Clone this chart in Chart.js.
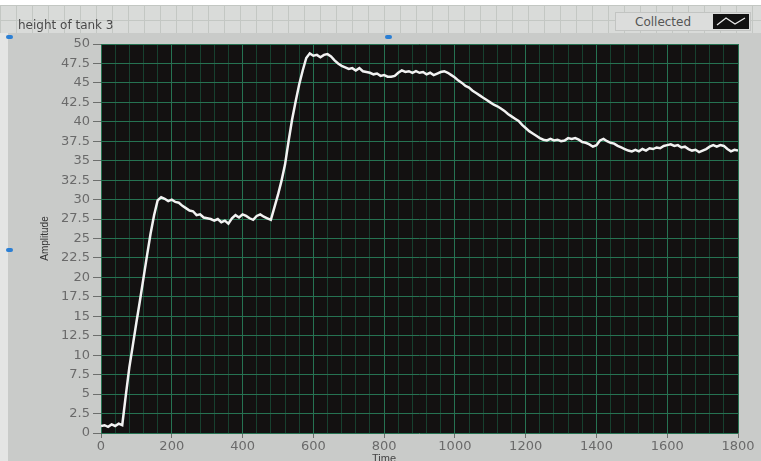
<!DOCTYPE html>
<html>
<head>
<meta charset="utf-8">
<script src="https://cdn.jsdelivr.net/npm/chart.js@4/dist/chart.umd.min.js"></script>
<style>
  html, body { margin: 0; padding: 0; }
  body { width: 761px; height: 461px; overflow: hidden; position: relative; background: #ffffff; font-family: "DejaVu Sans", sans-serif; }
  #panel { position: absolute; left: 0; top: 5px; width: 761px; height: 30px;
    background-color: #d9dbd9;
    background-image:
      linear-gradient(to right, #c3c7c3 1px, transparent 1px),
      linear-gradient(to bottom, #c3c7c3 1px, transparent 1px);
    background-size: 16px 15px; }
  #leftStrip { position: absolute; left: 0; top: 33px; width: 8px; height: 428px; background: #e4e5e4; }
  #frame { position: absolute; left: 8px; top: 33px; width: 753px; height: 428px; background: #c9cbc9; }
  #wrap { position: absolute; left: 0; top: 0; width: 761px; height: 461px; }
  #title { position: absolute; left: 18px; top: 18px; font-size: 12px; color: #4a4a4a; }
  #legend { position: absolute; left: 615px; top: 12px; width: 136px; height: 19px; background: #dcdddc;
    border: 1px solid #c2c4c2; box-sizing: border-box; }
  #legend span { position: absolute; left: 19px; top: 2px; font-size: 12px; color: #555; }
  #legend svg { position: absolute; left: 97px; top: 1px; }
  #xTitle { position: absolute; left: 372px; top: 452px; font-family: "Liberation Sans", sans-serif; font-size: 11px; color: #444; }
  .handle { position: absolute; width: 7px; height: 4px; background: #2b7fd4; border-radius: 2px; }
</style>
</head>
<body>
<div id="panel"></div>
<div id="leftStrip"></div>
<div id="frame"></div>
<div id="wrap"><canvas id="c" width="761" height="461"></canvas></div>
<div id="title">height of tank 3</div>
<div id="legend"><span>Collected</span>
  <svg width="36" height="15" viewBox="0 0 36 15"><rect width="36" height="15" fill="#111"/>
    <polyline points="4,11 13,4 22,10 32,4" fill="none" stroke="#e8e8e8" stroke-width="1.3"/></svg>
</div>
<div id="xTitle">Time</div>
<div class="handle" style="left:6px;top:35px"></div>
<div class="handle" style="left:385px;top:35px"></div>
<div class="handle" style="left:6px;top:248px"></div>
<script>
// Sample times (s) of tank 3 level readings
const times = [
  0, 10, 20, 30, 40, 50, 60, 70, 80, 90,
  100, 110, 120, 130, 140, 150, 160, 170, 180, 190,
  200, 210, 220, 230, 240, 250, 260, 270, 280, 290,
  300, 310, 320, 330, 340, 350, 360, 370, 380, 390,
  400, 410, 420, 430, 440, 450, 460, 470, 480, 490,
  500, 510, 520, 530, 540, 550, 560, 570, 580, 590,
  600, 610, 620, 630, 640, 650, 660, 670, 680, 690,
  700, 710, 720, 730, 740, 750, 760, 770, 780, 790,
  800, 810, 820, 830, 840, 850, 860, 870, 880, 890,
  900, 910, 920, 930, 940, 950, 960, 970, 980, 990,
  1000, 1010, 1020, 1030, 1040, 1050, 1060, 1070, 1080, 1090,
  1100, 1110, 1120, 1130, 1140, 1150, 1160, 1170, 1180, 1190,
  1200, 1210, 1220, 1230, 1240, 1250, 1260, 1270, 1280, 1290,
  1300, 1310, 1320, 1330, 1340, 1350, 1360, 1370, 1380, 1390,
  1400, 1410, 1420, 1430, 1440, 1450, 1460, 1470, 1480, 1490,
  1500, 1510, 1520, 1530, 1540, 1550, 1560, 1570, 1580, 1590,
  1600, 1610, 1620, 1630, 1640, 1650, 1660, 1670, 1680, 1690,
  1700, 1710, 1720, 1730, 1740, 1750, 1760, 1770, 1780, 1790,
  1800
];

// Measured level of tank 3 ("Collected")
const collected = [
  0.9, 1.0, 0.8, 1.1, 0.9, 1.2, 1.0, 4.8, 8.4, 11.3,
  14.2, 17.0, 19.9, 22.8, 25.6, 28.0, 29.9, 30.3, 30.1, 29.8,
  30.0, 29.7, 29.6, 29.2, 28.9, 28.6, 28.5, 28.0, 28.1, 27.7,
  27.6, 27.5, 27.3, 27.5, 27.1, 27.3, 26.9, 27.6, 28.0, 27.7,
  28.1, 27.9, 27.6, 27.4, 27.9, 28.1, 27.8, 27.6, 27.4, 29.0,
  30.6, 32.4, 34.5, 37.5, 40.3, 42.6, 44.8, 46.6, 48.2, 48.8,
  48.5, 48.6, 48.3, 48.6, 48.7, 48.4, 47.9, 47.5, 47.2, 47.0,
  46.8, 46.9, 46.6, 46.9, 46.5, 46.4, 46.3, 46.1, 46.2, 45.9,
  46.0, 45.8, 45.8, 45.9, 46.3, 46.6, 46.4, 46.5, 46.3, 46.5,
  46.3, 46.4, 46.1, 46.3, 46.0, 46.2, 46.4, 46.5, 46.3, 46.0,
  45.7, 45.3, 45.0, 44.6, 44.4, 44.0, 43.7, 43.4, 43.1, 42.8,
  42.5, 42.2, 42.0, 41.7, 41.4, 41.0, 40.7, 40.4, 40.1, 39.6,
  39.2, 38.8, 38.5, 38.2, 37.9, 37.7, 37.6, 37.8, 37.6, 37.7,
  37.5, 37.6, 37.9, 37.8, 37.9, 37.7, 37.4, 37.3, 37.1, 36.8,
  37.0, 37.6, 37.8, 37.5, 37.3, 37.2, 36.9, 36.7, 36.5, 36.3,
  36.2, 36.4, 36.2, 36.5, 36.3, 36.6, 36.5, 36.7, 36.6, 36.9,
  37.0, 37.1, 36.9, 37.0, 36.7, 36.8, 36.5, 36.3, 36.4, 36.1,
  36.3, 36.5, 36.8, 37.0, 36.8, 37.0, 36.9, 36.5, 36.2, 36.4,
  36.3
];

// Axis ranges and tick spacing
const xRange = [0, 1800];
const xMajorStep = 200;
const xMinorStep = 40;
const yRange = [0, 50];
const yStep = 2.5;

const points = times.map((t, i) => ({ x: t, y: collected[i] }));

// Dark plotting surface behind the grid
const plotSurface = {
  id: 'plotSurface',
  beforeDraw(chart) {
    const a = chart.chartArea, ctx = chart.ctx;
    ctx.save();
    ctx.fillStyle = '#131111';
    ctx.fillRect(a.left, a.top, a.right - a.left, a.bottom - a.top);
    ctx.restore();
  }
};

const majorGreen = '#267252';
const minorGreen = '#17402f';
const tickGrey = '#6d6f6d';

new Chart(document.getElementById('c'), {
  type: 'line',
  data: {
    datasets: [{
      label: 'Collected',
      data: points,
      borderColor: '#f2f2f2',
      borderWidth: 2.5,
      pointRadius: 0,
      tension: 0,
      fill: false
    }]
  },
  options: {
    responsive: false,
    animation: false,
    devicePixelRatio: 1,
    layout: { padding: { left: 35, top: 44, right: 23, bottom: 0 } },
    plugins: { legend: { display: false }, title: { display: false }, tooltip: { enabled: false } },
    scales: {
      x: {
        type: 'linear',
        min: xRange[0], max: xRange[1],
        afterFit(scale) { scale.height = 28; },
        border: { display: false },
        grid: {
          color: c => (c.tick && c.tick.value % xMajorStep === 0) ? majorGreen : minorGreen,
          tickColor: c => (c.tick && c.tick.value % xMajorStep === 0) ? tickGrey : 'rgba(0,0,0,0)',
          tickLength: 5,
          lineWidth: 1
        },
        ticks: {
          stepSize: xMinorStep,
          autoSkip: false,
          maxRotation: 0,
          padding: 1,
          color: '#6a6a6a',
          font: { family: 'DejaVu Sans', size: 13 },
          callback: v => (v % xMajorStep === 0) ? String(v) : ''
        }
      },
      y: {
        type: 'linear',
        min: yRange[0], max: yRange[1],
        afterFit(scale) { scale.width = 66; },
        border: { display: false },
        grid: {
          color: majorGreen,
          tickColor: tickGrey,
          tickLength: 8,
          lineWidth: 1
        },
        ticks: {
          stepSize: yStep,
          autoSkip: false,
          padding: 3,
          color: '#6a6a6a',
          font: { family: 'DejaVu Sans', size: 13 }
        },
        title: {
          display: true,
          text: 'Amplitude',
          color: '#333',
          font: { family: 'Liberation Sans Narrow, Liberation Sans', size: 10 },
          padding: { top: 4, bottom: 0 }
        }
      }
    }
  },
  plugins: [plotSurface]
});
</script>
</body>
</html>
